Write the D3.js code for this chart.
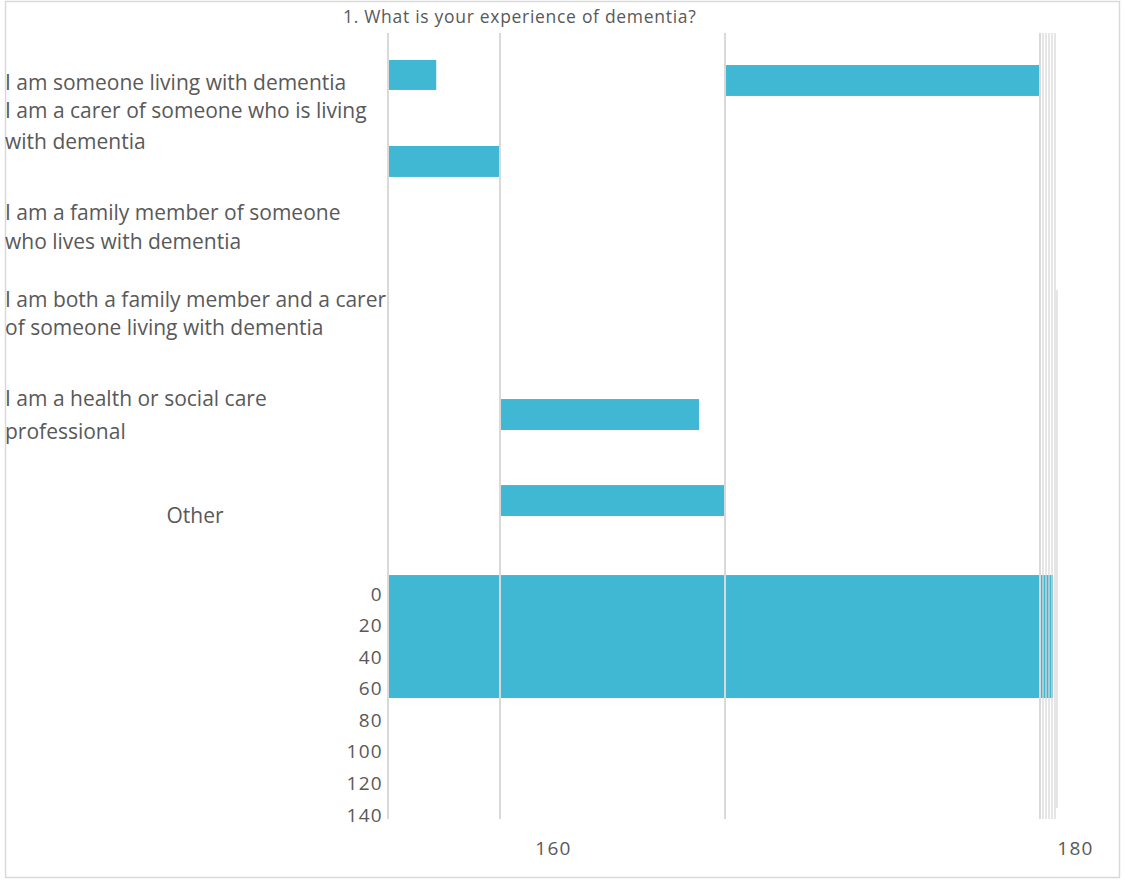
<!DOCTYPE html>
<html>
<head>
<meta charset="utf-8">
<script src="https://cdn.jsdelivr.net/npm/d3@7"></script>
<style>
  html, body { margin: 0; padding: 0; background: #fff; }
  svg { display: block; }
</style>
</head>
<body>
<svg id="chart" width="1125" height="880"></svg>
<script>
// ---- data ----
const title = "1.  What is your experience of dementia?";
const categories = [
  ["I am someone living with dementia"],
  ["I am a carer of someone who is living", "with dementia"],
  ["I am a family member of someone", "who lives with dementia"],
  ["I am both a family member and a carer", "of someone living with dementia"],
  ["I am a health or social care", "professional"],
  ["Other"]
];
// bars: start / end value on the value axis, and row extent on the vertical axis
const barStart  = [0,     51.7,   0,     17.3,   17.2,  0];
const barEnd    = [7.4,   100,    17.2,  47.7,   51.7,  102];
const barTop    = [-338.3, -335.1, -283.8, -123.5, -69.0, -12.0];
const barBottom = [-319.3, -315.5, -264.2, -103.9, -49.4, 65.9];
const yTickValues = [0, 20, 40, 60, 80, 100, 120, 140];
const xTickValues = [160, 180];
const gridValues = [0, 17.18, 51.69, 100, 100.46, 100.92, 101.38, 101.84, 102.3];
const shortGridValue = 102.6;

// ---- layout ----
const svg = d3.select("#chart");
const textColor = "#595959";
const gridColor = "#d9d9d9";
const barColor = "#41b8d3";
const font = "'Open Sans', sans-serif";

// frame
svg.append("rect").attr("x", 5.5).attr("y", 1.5).attr("width", 1114).attr("height", 876)
  .attr("fill", "none").attr("stroke", gridColor).attr("stroke-width", 1.5);

const x = d3.scaleLinear().domain([0, 100]).range([388, 1040]);
const y = d3.scaleLinear().domain([0, 140]).range([594, 815]);
const xLab = d3.scaleLinear().domain([160, 180]).range([553, 1075]);

// bars
const bars = barStart.map((s, i) => ({s, e: barEnd[i], t: barTop[i], b: barBottom[i]}));
svg.append("g").selectAll("rect").data(bars).join("rect")
  .attr("x", d => x(d.s))
  .attr("y", d => y(d.t))
  .attr("width", d => x(d.e) - x(d.s))
  .attr("height", d => y(d.b) - y(d.t))
  .attr("fill", barColor);

// gridlines
const gTop = -355.4, gBottom = 142.6;
svg.append("g").selectAll("line").data(gridValues).join("line")
  .attr("x1", d => x(d)).attr("x2", d => x(d))
  .attr("y1", y(gTop)).attr("y2", y(gBottom))
  .attr("stroke", gridColor)
  .attr("stroke-width", (d, i) => i < 4 ? 2 : 1.3);
svg.append("line")
  .attr("x1", x(shortGridValue)).attr("x2", x(shortGridValue))
  .attr("y1", y(-192.6)).attr("y2", y(135.6))
  .attr("stroke", gridColor).attr("stroke-width", 1.3);

// y axis ticks
const yAxis = svg.append("g").attr("transform", "translate(388,0)")
  .call(d3.axisLeft(y).tickValues(yTickValues).tickSize(0).tickPadding(5));
yAxis.select(".domain").remove();
yAxis.selectAll("text").attr("font-family", font).attr("font-size", 19)
  .attr("letter-spacing", 1.3).attr("fill", textColor);

// x axis labels
const xAxis = svg.append("g").attr("transform", "translate(0,841)")
  .call(d3.axisBottom(xLab).tickValues(xTickValues).tickSize(0).tickPadding(0));
xAxis.select(".domain").remove();
xAxis.selectAll("text").attr("font-family", font).attr("font-size", 19)
  .attr("letter-spacing", 1.3).attr("fill", textColor);

// title
svg.append("text").attr("x", 343).attr("y", 23)
  .attr("font-family", font).attr("font-size", 17.5).attr("letter-spacing", 0.7)
  .attr("fill", textColor)
  .text(title);

// category labels (line centre positions on the vertical axis)
const labelLines = [[-323.9], [-306.0, -286.3], [-241.4, -223.0], [-186.2, -168.5], [-123.5, -102.6], [-49.4]];
const lg = svg.append("g");
categories.forEach((lines, i) => {
  lines.forEach((ln, j) => {
    const isOther = i === categories.length - 1;
    lg.append("text")
      .attr("x", isOther ? 195 : 5)
      .attr("y", y(labelLines[i][j]))
      .attr("dy", "0.35em")
      .attr("text-anchor", isOther ? "middle" : "start")
      .attr("font-family", font).attr("font-size", 21).attr("fill", textColor)
      .text(ln);
  });
});
</script>
</body>
</html>
